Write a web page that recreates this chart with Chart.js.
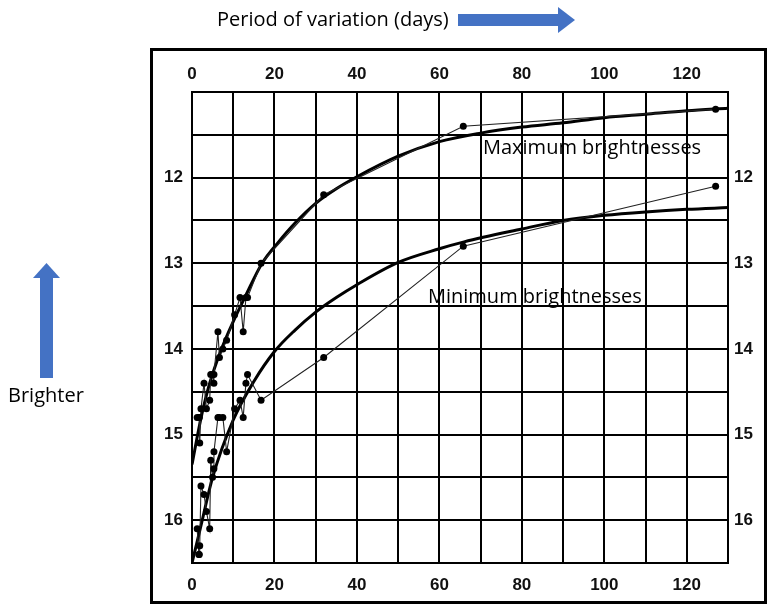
<!DOCTYPE html>
<html>
<head>
<meta charset="utf-8">
<script src="https://cdn.jsdelivr.net/npm/chart.js@4.4.0/dist/chart.umd.min.js"></script>
<style>
  html, body { margin: 0; padding: 0; background: #fff; }
</style>
</head>
<body>
<canvas id="chart" width="769" height="605"></canvas>
<script>
// Cepheids: period (days), magnitude at maximum and at minimum
const periods = [1.253, 1.664, 1.762, 1.875, 2.174, 2.913, 3.501, 4.290, 4.547, 4.987, 5.311, 5.323, 6.293, 6.650, 7.483, 8.397, 10.336, 11.645, 12.417, 13.08, 13.47, 16.75, 31.94, 65.8, 127.0];
const maxMags = [14.8, 14.8, 14.8, 15.1, 14.7, 14.4, 14.7, 14.6, 14.3, 14.3, 14.4, 14.3, 13.8, 14.1, 14.0, 13.9, 13.6, 13.4, 13.8, 13.4, 13.4, 13.0, 12.2, 11.4, 11.2];
const minMags = [16.1, 16.4, 16.4, 16.3, 15.6, 15.7, 15.9, 16.1, 15.3, 15.5, 15.4, 15.2, 14.8, 14.8, 14.8, 15.2, 14.7, 14.6, 14.8, 14.4, 14.3, 14.6, 14.1, 12.8, 12.1];

// hand-drawn smooth curves
const maxCurveDays = [0, 2, 4, 6, 8, 10, 13, 17, 21, 25, 30, 35, 40, 50, 60, 70, 80, 90, 100, 110, 120, 130];
const maxCurveMags = [15.35, 14.85, 14.45, 14.15, 13.9, 13.68, 13.38, 13.0, 12.75, 12.53, 12.3, 12.13, 11.99, 11.75, 11.58, 11.48, 11.41, 11.36, 11.30, 11.26, 11.22, 11.19];
const minCurveDays = [0, 2, 5, 10, 15, 20, 25, 30, 35, 40, 50, 60, 66, 80, 90, 100, 110, 120, 130];
const minCurveMags = [16.5, 16.1, 15.5, 14.83, 14.38, 14.03, 13.78, 13.57, 13.4, 13.25, 12.99, 12.83, 12.75, 12.6, 12.5, 12.44, 12.40, 12.37, 12.35];

const xTickLabels = [0, 20, 40, 60, 80, 100, 120];
const yTickLabels = [12, 13, 14, 15, 16];

function pts(xs, ys) {
    return xs.map((x, i) => ({ x: x, y: ys[i] }));
}

const tickFont = { family: 'Liberation Sans', size: 17, weight: 'bold' };
const xTick = v => xTickLabels.includes(v) ? String(v) : '';
const yTick = v => yTickLabels.includes(v) ? String(v) : '';

const decorations = {
    id: 'decorations',
    afterDraw(chart) {
        const c = chart.ctx;
        c.save();
        // outer frame
        c.strokeStyle = '#000';
        c.lineWidth = 3;
        c.strokeRect(151.5, 49.5, 614, 553);

        // arrows
        c.fillStyle = '#4472C4';
        c.fillRect(458, 14, 102, 12);
        c.beginPath();
        c.moveTo(558, 7); c.lineTo(575, 20); c.lineTo(558, 33); c.closePath();
        c.fill();
        c.fillRect(40, 276, 13, 102);
        c.beginPath();
        c.moveTo(33, 278); c.lineTo(46.5, 263); c.lineTo(60, 278); c.closePath();
        c.fill();

        // texts
        c.fillStyle = '#000';
        c.textBaseline = 'middle';
        c.font = '20px "Open Sans"';
        c.fillText('Period of variation (days)', 217, 20);
        c.fillText('Brighter', 8, 396);
        c.fillText('Maximum brightnesses', 483, 148);
        c.fillText('Minimum brightnesses', 428, 297);
        c.restore();
    }
};

new Chart(document.getElementById('chart'), {
    type: 'scatter',
    data: {
        datasets: [
            {
                data: pts(periods, maxMags),
                showLine: true,
                borderColor: '#222',
                borderWidth: 1.1,
                pointRadius: 3.5,
                pointBackgroundColor: '#000',
                pointBorderWidth: 0
            },
            {
                data: pts(periods, minMags),
                showLine: true,
                borderColor: '#222',
                borderWidth: 1.1,
                pointRadius: 3.5,
                pointBackgroundColor: '#000',
                pointBorderWidth: 0
            },
            {
                data: pts(maxCurveDays, maxCurveMags),
                showLine: true,
                borderColor: '#000',
                borderWidth: 3,
                pointRadius: 0,
                cubicInterpolationMode: 'monotone'
            },
            {
                data: pts(minCurveDays, minCurveMags),
                showLine: true,
                borderColor: '#000',
                borderWidth: 3,
                pointRadius: 0,
                cubicInterpolationMode: 'monotone'
            }
        ]
    },
    options: {
        responsive: false,
        animation: false,
        layout: { padding: { left: 152, right: 3, top: 50, bottom: 2 } },
        plugins: { legend: { display: false }, tooltip: { enabled: false } },
        scales: {
            x: {
                type: 'linear', position: 'bottom', min: 0, max: 130,
                ticks: { stepSize: 10, autoSkip: false, maxRotation: 0, callback: xTick, font: tickFont, color: '#111', padding: 12 },
                grid: { color: '#000', lineWidth: 2, drawTicks: false },
                border: { color: '#000', width: 2 },
                afterFit: s => { s.height = 40; }
            },
            x2: {
                type: 'linear', position: 'top', min: 0, max: 130,
                ticks: { stepSize: 10, autoSkip: false, maxRotation: 0, callback: xTick, font: tickFont, color: '#111', padding: 7 },
                grid: { display: false, drawTicks: false },
                border: { color: '#000', width: 2 },
                afterFit: s => { s.height = 42; }
            },
            y: {
                type: 'linear', position: 'left', min: 11, max: 16.5, reverse: true,
                ticks: { stepSize: 0.5, autoSkip: false, callback: yTick, font: tickFont, color: '#111', padding: 9 },
                grid: { color: '#000', lineWidth: 2, drawTicks: false },
                border: { color: '#000', width: 2 },
                afterFit: s => { s.width = 40; }
            },
            y2: {
                type: 'linear', position: 'right', min: 11, max: 16.5, reverse: true,
                ticks: { stepSize: 0.5, autoSkip: false, callback: yTick, font: tickFont, color: '#111', padding: 6 },
                grid: { display: false, drawTicks: false },
                border: { color: '#000', width: 2 },
                afterFit: s => { s.width = 38; }
            }
        }
    },
    plugins: [decorations]
});
</script>
</body>
</html>
